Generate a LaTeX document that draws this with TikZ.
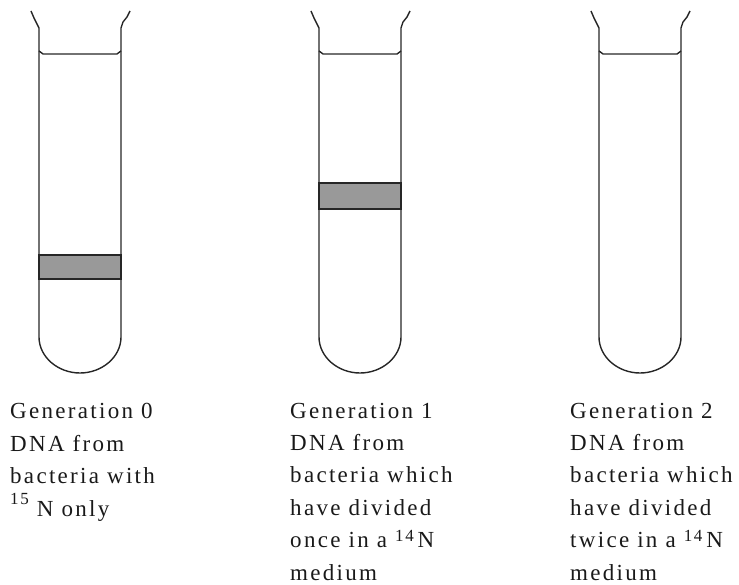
\documentclass[tikz,border=0pt]{standalone}
\usepackage{fontspec}
\setmainfont{Liberation Serif}[LetterSpace=10]

\tikzset{
    tubeline/.style = {line width=1.4bp, black!85, line join=round},
    bandbox/.style  = {fill=black!40, draw=black!85, line width=1.4bp},
    caption/.style  = {anchor=base west, inner sep=0pt, align=left, black!90,
                       font=\fontsize{23bp}{32.4bp}\selectfont}
}

\newcommand{\testTube}[1]
{
    \begin{scope}[shift={(#1,0)}]
        \draw[tubeline] (31,11) -- (34,18) -- (36,22) -- (39,28) -- (39,337)
            .. controls (39,357) and (58,373) .. (80,373)
            .. controls (102,373) and (121,357) .. (121,337)
            -- (121,28) -- (123,22) -- (127,17) -- (130,11);
        \draw[tubeline] (39,51) -- (43,54) -- (117,54) -- (121,51);
    \end{scope}
}
\newcommand{\isotope}[2]{\raisebox{#2bp}{\fontsize{17bp}{17bp}\selectfont #1}}

\begin{document}
\begin{tikzpicture}[x=1bp, y=-1bp]

    \useasboundingbox (0,0) rectangle (739,585);

    %draws the three tubes
    \testTube{0};
    \testTube{280};
    \testTube{560};

    %draws DNA bands
    \draw[bandbox] (39,255) rectangle (121,279);
    \draw[bandbox] (319,183) rectangle (401,209);

    %captions under the tubes (anchored at the last line)
    \node[caption] (gen0) at (10,516)
        {Generation 0\\DNA from\\bacteria with\\\isotope{15}{12} N only};
    \node[caption] (gen1) at (290,580)
        {Generation 1\\DNA from\\bacteria which\\have divided\\once in a \isotope{14}{6}\,N\\medium};
    \node[caption] (gen2) at (570,580)
        {Generation 2\\DNA from\\bacteria which\\have divided\\twice in a \isotope{14}{6}\,N\\medium};

\end{tikzpicture}
\end{document}
